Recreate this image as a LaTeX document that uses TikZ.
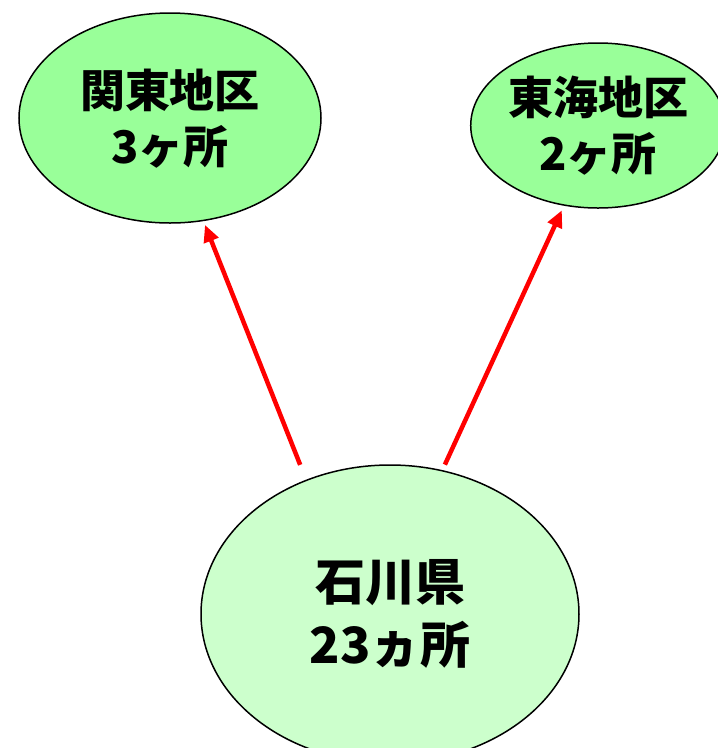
\documentclass[tikz,border=0pt]{standalone}
\usepackage{fontspec}
\newfontfamily\cjk{Noto Sans CJK JP}
\usetikzlibrary{shapes.geometric,arrows.meta}
\definecolor{darkfill}{HTML}{99FF99}
\definecolor{lightfill}{HTML}{CCFFCC}
\definecolor{arrowred}{HTML}{FF0000}
\begin{document}
\begin{tikzpicture}[x=1pt,y=-1pt,
  region/.style={ellipse,draw=black,line width=1.5pt,inner sep=0pt,align=center,
    font=\cjk\bfseries\fontsize{45}{56}\selectfont},
  flow/.style={draw=arrowred,line width=4.5pt,-{Triangle[length=17pt,width=15pt]}}]
\useasboundingbox (0,0) rectangle (718,748);
\clip (0,0) rectangle (718,748);
\node[region,fill=darkfill,minimum width=302pt,minimum height=210pt] (kanto) at (170,118) {\raisebox{-6pt}[\height][\depth]{\begin{tabular}{@{}c@{}}関東地区\\3ヶ所\end{tabular}}};
\node[region,fill=darkfill,minimum width=246pt,minimum height=165pt] (tokai) at (598,125.5) {東海地区\\2ヶ所};
\node[region,fill=lightfill,minimum width=378pt,minimum height=298pt,
  font=\cjk\bfseries\fontsize{50}{63}\selectfont] (ishikawa) at (390,614) {石川県\\23ヵ所};
\draw[flow,shorten <=16pt,shorten >=4pt] (ishikawa.122.6) -- (kanto.-72.3);
\draw[flow,shorten <=6pt,shorten >=5pt] (ishikawa.70) -- (tokai.-113.8);
\end{tikzpicture}
\end{document}
